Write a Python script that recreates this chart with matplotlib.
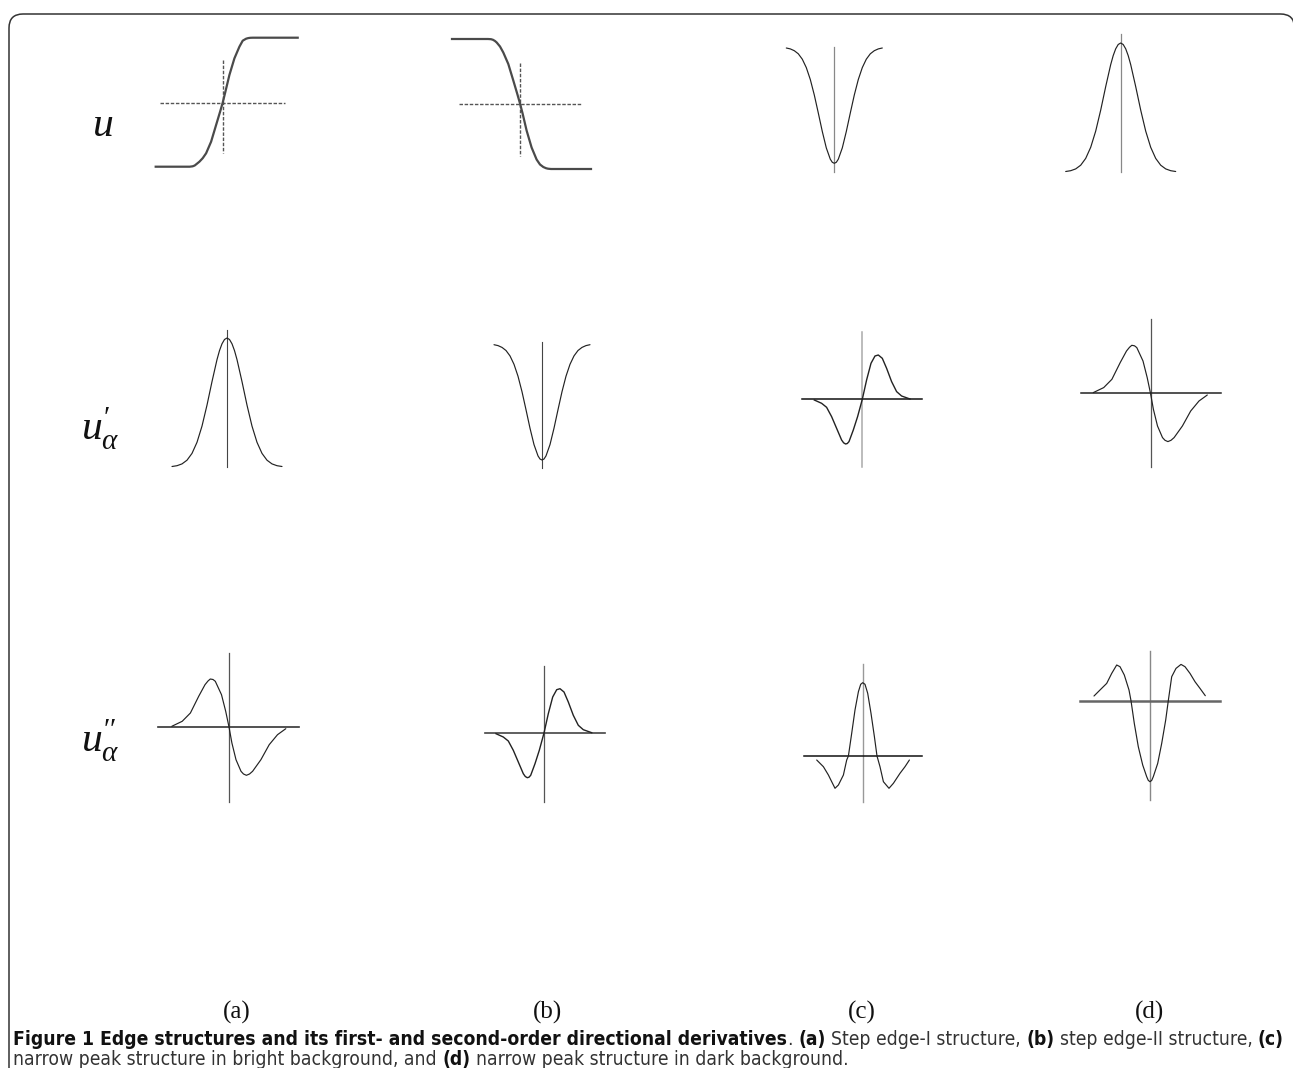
import matplotlib
matplotlib.use("Agg")
import matplotlib.pyplot as plt
from matplotlib import font_manager
from matplotlib.path import Path
from matplotlib.patches import PathPatch

plt.rcParams["mathtext.fontset"] = "custom"
plt.rcParams["mathtext.it"] = "Liberation Serif:italic"
plt.rcParams["mathtext.rm"] = "Liberation Serif"

# ---- curve values (1 unit = 10 px in both directions) ----
# row 1 : u
step_a_x = [-6.7, -3.3, -3.0, -2.8, -2.6, -2.33, -2.0, -1.66, -1.16, -0.66, -0.26, 0.0, 0.27, 0.67,
            1.17, 1.67, 2.0, 2.34, 2.55, 2.75, 3.0, 7.5]
step_a_y = [-6.4, -6.4, -6.36, -6.28, -6.12, -5.9, -5.55, -5.06, -3.9, -2.23, -0.9, 0.0, 1.1, 2.77,
            4.43, 5.6, 6.2, 6.4, 6.46, 6.49, 6.5, 6.5]
step_b_x = [-6.8, -3.2, -2.9, -2.7, -2.5, -2.33, -2.0, -1.67, -1.17, -0.67, -0.27, 0.0, 0.26, 0.66,
            1.16, 1.66, 2.0, 2.33, 2.6, 2.8, 3.1, 7.1]
step_b_y = [6.45, 6.45, 6.43, 6.37, 6.25, 6.1, 5.7, 5.1, 3.95, 2.3, 0.95, 0.0, -1.0, -2.7,
            -4.4, -5.6, -6.1, -6.35, -6.47, -6.52, -6.55, -6.55]

vee_x = [-4.8, -4.4, -4.0, -3.6, -3.2, -2.8, -2.4, -2.0, -1.6, -1.2, -0.8, -0.4, -0.2, 0.0,
         0.2, 0.4, 0.8, 1.2, 1.6, 2.0, 2.4, 2.8, 3.2, 3.6, 4.0, 4.4, 4.8]
vee_y = [11.53, 11.44, 11.26, 10.95, 10.41, 9.57, 8.38, 6.83, 5.03, 3.18, 1.54, 0.41, 0.10, 0.0,
         0.10, 0.41, 1.54, 3.18, 5.03, 6.83, 8.38, 9.57, 10.41, 10.95, 11.26, 11.44, 11.53]

bump_x = [-5.5, -5.0, -4.5, -4.0, -3.5, -3.0, -2.5, -2.0, -1.5, -1.0, -0.75, -0.5, -0.25, 0.0,
          0.25, 0.5, 0.75, 1.0, 1.5, 2.0, 2.5, 3.0, 3.5, 4.0, 4.5, 5.0, 5.5]
bump_y = [0.05, 0.13, 0.31, 0.68, 1.36, 2.47, 4.09, 6.19, 8.54, 10.74, 11.64, 12.32, 12.75, 12.9,
          12.75, 12.32, 11.64, 10.74, 8.54, 6.19, 4.09, 2.47, 1.36, 0.68, 0.31, 0.13, 0.05]

# narrow first-derivative shape (min left, max right)
dn_x = [-4.8, -4.07, -3.57, -3.07, -2.57, -2.07, -1.87, -1.67, -1.5, -1.33, -0.9, -0.47, 0.0,
        0.43, 0.87, 1.27, 1.6, 2.0, 2.43, 2.93, 3.43, 3.93, 4.77]
dn_y = [-0.07, -0.4, -0.8, -1.73, -2.9, -4.07, -4.35, -4.47, -4.42, -4.23, -3.07, -1.73, 0.0,
        1.93, 3.6, 4.33, 4.43, 4.1, 3.1, 1.77, 0.77, 0.33, 0.03]

# wide first-derivative shape (max left, min right)
dw_x = [-5.72, -4.68, -3.86, -3.03, -2.4, -2.1, -1.87, -1.6, -1.37, -0.75, -0.33, 0.0,
        0.29, 0.7, 1.2, 1.45, 1.74, 2.05, 2.36, 3.19, 4.02, 4.85, 5.68]
dw_y = [0.07, 0.57, 1.4, 3.07, 4.23, 4.6, 4.8, 4.75, 4.57, 3.23, 1.57, 0.0,
        -1.6, -3.27, -4.43, -4.7, -4.83, -4.7, -4.43, -3.27, -1.77, -0.77, -0.17]

# narrow peak, second derivative (c)
mn_x = [-4.6, -3.93, -3.43, -3.1, -2.77, -2.43, -1.93, -1.6, -1.43, -1.1, -0.77, -0.43, -0.2, 0.0,
        0.23, 0.5, 0.83, 1.17, 1.43, 1.73, 2.07, 2.63, 3.07, 3.73, 4.23, 4.67]
mn_y = [-0.4, -1.07, -1.9, -2.57, -3.23, -2.9, -1.9, -0.4, 0.0, 2.27, 4.6, 6.43, 7.17, 7.33,
        7.17, 6.27, 4.27, 1.93, 0.0, -1.07, -2.57, -3.23, -2.73, -1.73, -1.07, -0.4]

# narrow peak, second derivative (d)
mw_x = [-5.6, -5.0, -4.33, -3.83, -3.33, -3.0, -2.57, -2.1, -1.9, -1.57, -1.17, -0.73, -0.33, -0.17, 0.0,
        0.17, 0.33, 0.77, 1.17, 1.57, 1.83, 2.17, 2.6, 3.1, 3.5, 4.0, 4.5, 5.0, 5.53]
mw_y = [0.47, 1.07, 1.73, 2.73, 3.57, 3.4, 2.57, 1.07, 0.0, -2.27, -4.6, -6.43, -7.6, -7.97, -8.1,
        -7.97, -7.6, -6.27, -4.27, -1.93, 0.0, 2.4, 3.23, 3.63, 3.4, 2.73, 1.9, 1.23, 0.5]

row_labels = [r"$u$", r"$u^{\prime}_{\alpha}$", r"$u^{\prime\prime}_{\alpha}$"]
col_labels = ["(a)", "(b)", "(c)", "(d)"]

cap_line1 = [("Figure 1 Edge structures and its first- and second-order directional derivatives", True),
             (".", False), (" ", False), ("(a)", True), (" ", False), ("Step edge-I structure,", False),
             (" ", False), ("(b)", True), (" ", False), ("step edge-II structure,", False),
             (" ", False), ("(c)", True)]
cap_line2 = [("narrow peak structure in bright background, and", False), (" ", False), ("(d)", True),
             (" ", False), ("narrow peak structure in dark background.", False)]

W, H = 1293, 1068
fig = plt.figure(figsize=(W / 100, H / 100), dpi=100)

bg = fig.add_axes([0, 0, 1, 1])
bg.set_xlim(0, W)
bg.set_ylim(H, 0)
bg.axis("off")

# rounded frame: left side, top side and the top-right corner
L, T, R, r = 9, 14, 1294.5, 14
frame = Path([(L, H + 5), (L, T + r), (L, T), (L + r, T), (R - r, T), (R, T), (R, T + r), (R, H + 5)],
             [Path.MOVETO, Path.LINETO, Path.CURVE3, Path.CURVE3, Path.LINETO,
              Path.CURVE3, Path.CURVE3, Path.LINETO])
bg.add_patch(PathPatch(frame, fill=False, ec="#333333", lw=1.1))


def panel(ox, oy):
    ax = fig.add_axes([(ox - 80) / W, 1 - (oy + 150) / H, 160 / W, 300 / H])
    ax.set_xlim(-8, 8)
    ax.set_ylim(-15, 15)
    ax.axis("off")
    ax.patch.set_alpha(0)
    return ax


CURVE = dict(color="#222222", lw=0.85, solid_capstyle="round")
DASH = dict(color="#555555", lw=1.0, linestyle=(0, (2.5, 1.2)))
STEP = dict(color="#4a4a4a", lw=1.6, solid_joinstyle="round")

# row 1
ax = panel(222.7, 102.7)
ax.plot([-6.27, 6.23], [0, 0], **DASH)
ax.plot([0, 0], [4.27, -5.03], **DASH)
ax.plot(step_a_x, step_a_y, **STEP)

ax = panel(520, 103.5)
ax.plot([-6.1, 6.2], [0, 0], **DASH)
ax.plot([0, 0], [4.05, -5.25], **DASH)
ax.plot(step_b_x, step_b_y, **STEP)

ax = panel(834.3, 163.3)
ax.plot([0, 0], [-0.84, 11.66], color="#888888", lw=0.9)
ax.plot(vee_x, vee_y, **CURVE)

ax = panel(1120.7, 172)
ax.plot([0, 0], [0, 13.8], color="#888888", lw=0.9)
ax.plot(bump_x, bump_y, **CURVE)

# row 2
ax = panel(227, 467)
ax.plot([0, 0], [0, 13.7], color="#444444", lw=0.8)
ax.plot(bump_x, bump_y, **CURVE)

ax = panel(542, 460)
ax.plot([0, 0], [-0.8, 11.8], color="#444444", lw=0.8)
ax.plot(vee_x, vee_y, **CURVE)

ax = panel(862.3, 399.3)
ax.plot([0, 0], [6.76, -6.74], color="#aaaaaa", lw=1.1)
ax.plot([-6.0, 5.94], [0, 0], color="#111111", lw=1.1)
ax.plot(dn_x, dn_y, color="#222222", lw=1.0)

ax = panel(1150.5, 393.3)
ax.plot([0, 0], [7.43, -7.37], color="#555555", lw=0.9)
ax.plot([-7.0, 7.05], [0, 0], color="#222222", lw=1.1)
ax.plot(dw_x, dw_y, **CURVE)

# row 3
ax = panel(229, 727)
ax.plot([0, 0], [7.4, -7.5], color="#555555", lw=0.9)
ax.plot([-7.1, 7.0], [0, 0], color="#333333", lw=1.2)
ax.plot(dw_x, dw_y, **CURVE)

ax = panel(544, 733)
ax.plot([0, 0], [6.7, -6.9], color="#555555", lw=0.9)
ax.plot([-5.9, 6.05], [0, 0], color="#444444", lw=1.2)
ax.plot(dn_x, dn_y, color="#222222", lw=1.0)

ax = panel(862.7, 756)
ax.plot([0, 0], [9.2, -4.57], color="#999999", lw=1.0)
ax.plot([-5.84, 5.9], [0, 0], color="#111111", lw=1.1)
ax.plot(mn_x, mn_y, **CURVE)

ax = panel(1150, 700.7)
ax.plot([0, 0], [5.0, -9.93], color="#888888", lw=1.0)
ax.plot([-7.0, 7.0], [0, 0], color="#666666", lw=1.8)
ax.plot(mw_x, mw_y, **CURVE)

# ---- row labels ----
for (lx, ly), lab in zip([(92, 136), (81, 440), (81, 753)], row_labels):
    bg.text(lx, ly, lab, fontsize=30, ha="left", va="baseline", color="#111111")

# ---- column labels ----
for cx, lab in zip([237, 547, 862, 1150], col_labels):
    bg.text(cx, 1012, lab, family="Liberation Serif", fontsize=18, ha="center", va="center",
            color="#111111")

# ---- caption ----
CAP_FONT, CAP_STRETCH = "Liberation Sans", "normal"
for f in font_manager.fontManager.ttflist:
    if "Narrow" in f.name or "Condensed" in f.name or "condensed" in str(f.stretch):
        CAP_FONT, CAP_STRETCH = f.name, f.stretch
        break
renderer = fig.canvas.get_renderer()


def cap_text(x, y, s, bold, size, **kw):
    return bg.text(x, y, s, family=CAP_FONT, stretch=CAP_STRETCH, fontsize=size,
                   weight="bold" if bold else "normal", **kw)


def measure(s, bold, size):
    if s == " ":
        a = cap_text(0, 0, "a a", bold, size)
        b = cap_text(0, 0, "aa", bold, size)
        w = a.get_window_extent(renderer).width - b.get_window_extent(renderer).width
        a.remove()
        b.remove()
        return w
    t = cap_text(0, 0, s, bold, size)
    w = t.get_window_extent(renderer).width
    t.remove()
    return w


size = 12.0
total = sum(measure(s, b, size) for s, b in cap_line1)
size = size * 1272 / total


def draw_line(pieces, y):
    x = 13
    for s, bold in pieces:
        if s != " ":
            cap_text(x, y, s, bold, size, ha="left", va="baseline",
                     color="#111111" if bold else "#333333")
        x += measure(s, bold, size)


draw_line(cap_line1, 1045)
draw_line(cap_line2, 1065)

fig.savefig("out.png", dpi=100)
